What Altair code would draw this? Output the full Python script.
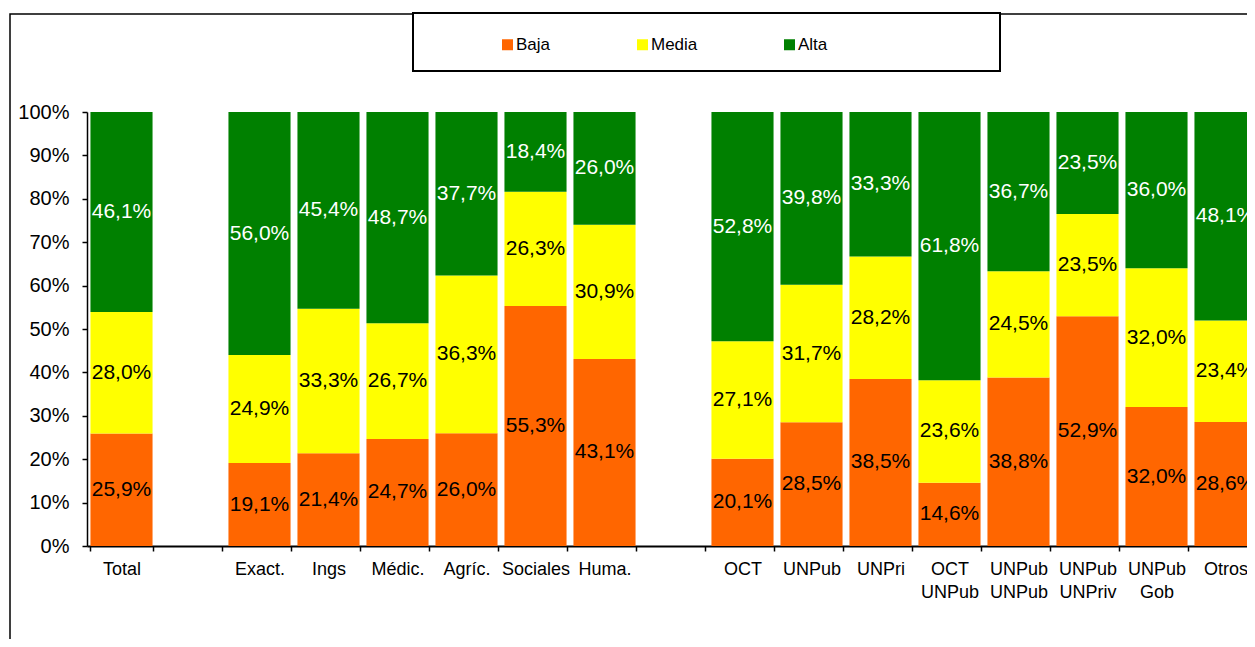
import altair as alt
import pandas as pd

# ---- data ----
categories = ["Total", "Exact.", "Ings", "Médic.", "Agríc.", "Sociales", "Huma.",
              "OCT", "UNPub", "UNPri", "OCT|UNPub", "UNPub|UNPub", "UNPub|UNPriv",
              "UNPub|Gob", "Otros"]
baja = [25.9, 19.1, 21.4, 24.7, 26.0, 55.3, 43.1, 20.1, 28.5, 38.5, 14.6, 38.8, 52.9, 32.0, 28.6]
media = [28.0, 24.9, 33.3, 26.7, 36.3, 26.3, 30.9, 27.1, 31.7, 28.2, 23.6, 24.5, 23.5, 32.0, 23.4]
alta = [46.1, 56.0, 45.4, 48.7, 37.7, 18.4, 26.0, 52.8, 39.8, 33.3, 61.8, 36.7, 23.5, 36.0, 48.1]
levels = ["Baja", "Media", "Alta"]
level_colors = ["#FF6600", "#FFFF00", "#008000"]
# axis slots, including the two empty separator slots
slots = ["Total", "_1", "Exact.", "Ings", "Médic.", "Agríc.", "Sociales", "Huma.", "_2",
         "OCT", "UNPub", "UNPri", "OCT|UNPub", "UNPub|UNPub", "UNPub|UNPriv", "UNPub|Gob", "Otros"]
y_ticks = [0, 0.1, 0.2, 0.3, 0.4, 0.5, 0.6, 0.7, 0.8, 0.9, 1.0]

rows = []
for i, c in enumerate(categories):
    for lev, vals in zip(levels, [baja, media, alta]):
        v = vals[i]
        rows.append({"cat": c, "level": lev, "value": v,
                     "label": f"{v:.1f}".replace(".", ",") + "%"})
df = pd.DataFrame(rows)

FONT = "Liberation Sans"
W_VIEW = 1160
X_RANGE = 1173
H = 434
OX, OY = 87, 112  # plot origin on the page

x_enc = alt.X("cat:N", title=None,
              scale=alt.Scale(domain=slots, range=[0, X_RANGE],
                              paddingInner=0.1, paddingOuter=0.05),
              axis=alt.Axis(labelExpr="indexof(datum.label,'_')==0 ? '' : split(datum.label,'|')",
                            labelAngle=0, labelFontSize=18, labelFont=FONT, labelColor="black",
                            labelPadding=9, labelLineHeight=23, labelOverlap=False,
                            tickBand="extent", tickSize=5, tickColor="black", tickWidth=1.5,
                            domainColor="black", domainWidth=2))

base = alt.Chart(df).transform_calculate(
    ord="indexof(['Baja','Media','Alta'], datum.level)"
).transform_stack(
    stack="value", groupby=["cat"], as_=["y0", "y1"],
    sort=[alt.SortField("ord", order="ascending")], offset="normalize"
).transform_calculate(mid="(datum.y0 + datum.y1) / 2")

bars = base.mark_bar().encode(
    x=x_enc,
    y=alt.Y("y0:Q", title=None,
            scale=alt.Scale(domain=[0, 1], nice=False),
            axis=alt.Axis(values=y_ticks, format=".0%", labelFontSize=20, labelFont=FONT,
                          labelColor="black", labelPadding=13, tickSize=5, tickColor="black",
                          tickWidth=1.5, domainColor="black", domainWidth=1.5, grid=False)),
    y2="y1:Q",
    color=alt.Color("level:N", scale=alt.Scale(domain=levels, range=level_colors),
                    legend=alt.Legend(title=None, orient="none", direction="horizontal",
                                      legendX=499 - OX, legendY=36 - OY,
                                      symbolType="square", symbolSize=121, symbolStrokeWidth=0,
                                      labelFontSize=17, labelFont=FONT, labelColor="black",
                                      labelOffset=0, columnPadding=83, padding=0)),
)

texts = base.mark_text(fontSize=21, font=FONT, baseline="middle", align="center").encode(
    x=alt.X("cat:N"),
    y=alt.Y("mid:Q"),
    text="label:N",
    color=alt.condition(alt.datum.level == "Alta", alt.value("white"), alt.value("black")),
)

one = pd.DataFrame({"k": [0]})
outer_frame = alt.Chart(one).mark_rect(fill=None, stroke="black", strokeWidth=1.5).encode(
    x=alt.value(10 - OX), x2=alt.value(3000), y=alt.value(14 - OY), y2=alt.value(3000))
legend_box = alt.Chart(one).mark_rect(fill="white", stroke="black", strokeWidth=2).encode(
    x=alt.value(413 - OX), x2=alt.value(1000 - OX), y=alt.value(13 - OY), y2=alt.value(71 - OY))

chart = alt.layer(outer_frame, bars, texts, legend_box).properties(
    width=W_VIEW, height=H,
    autosize=alt.AutoSizeParams(type="none"),
    padding={"left": OX - 8, "top": OY - 8, "right": 0, "bottom": 93},
    background="white",
).configure_view(stroke=None)

chart.save("out.html", embed_options={"renderer": "svg", "actions": False})
